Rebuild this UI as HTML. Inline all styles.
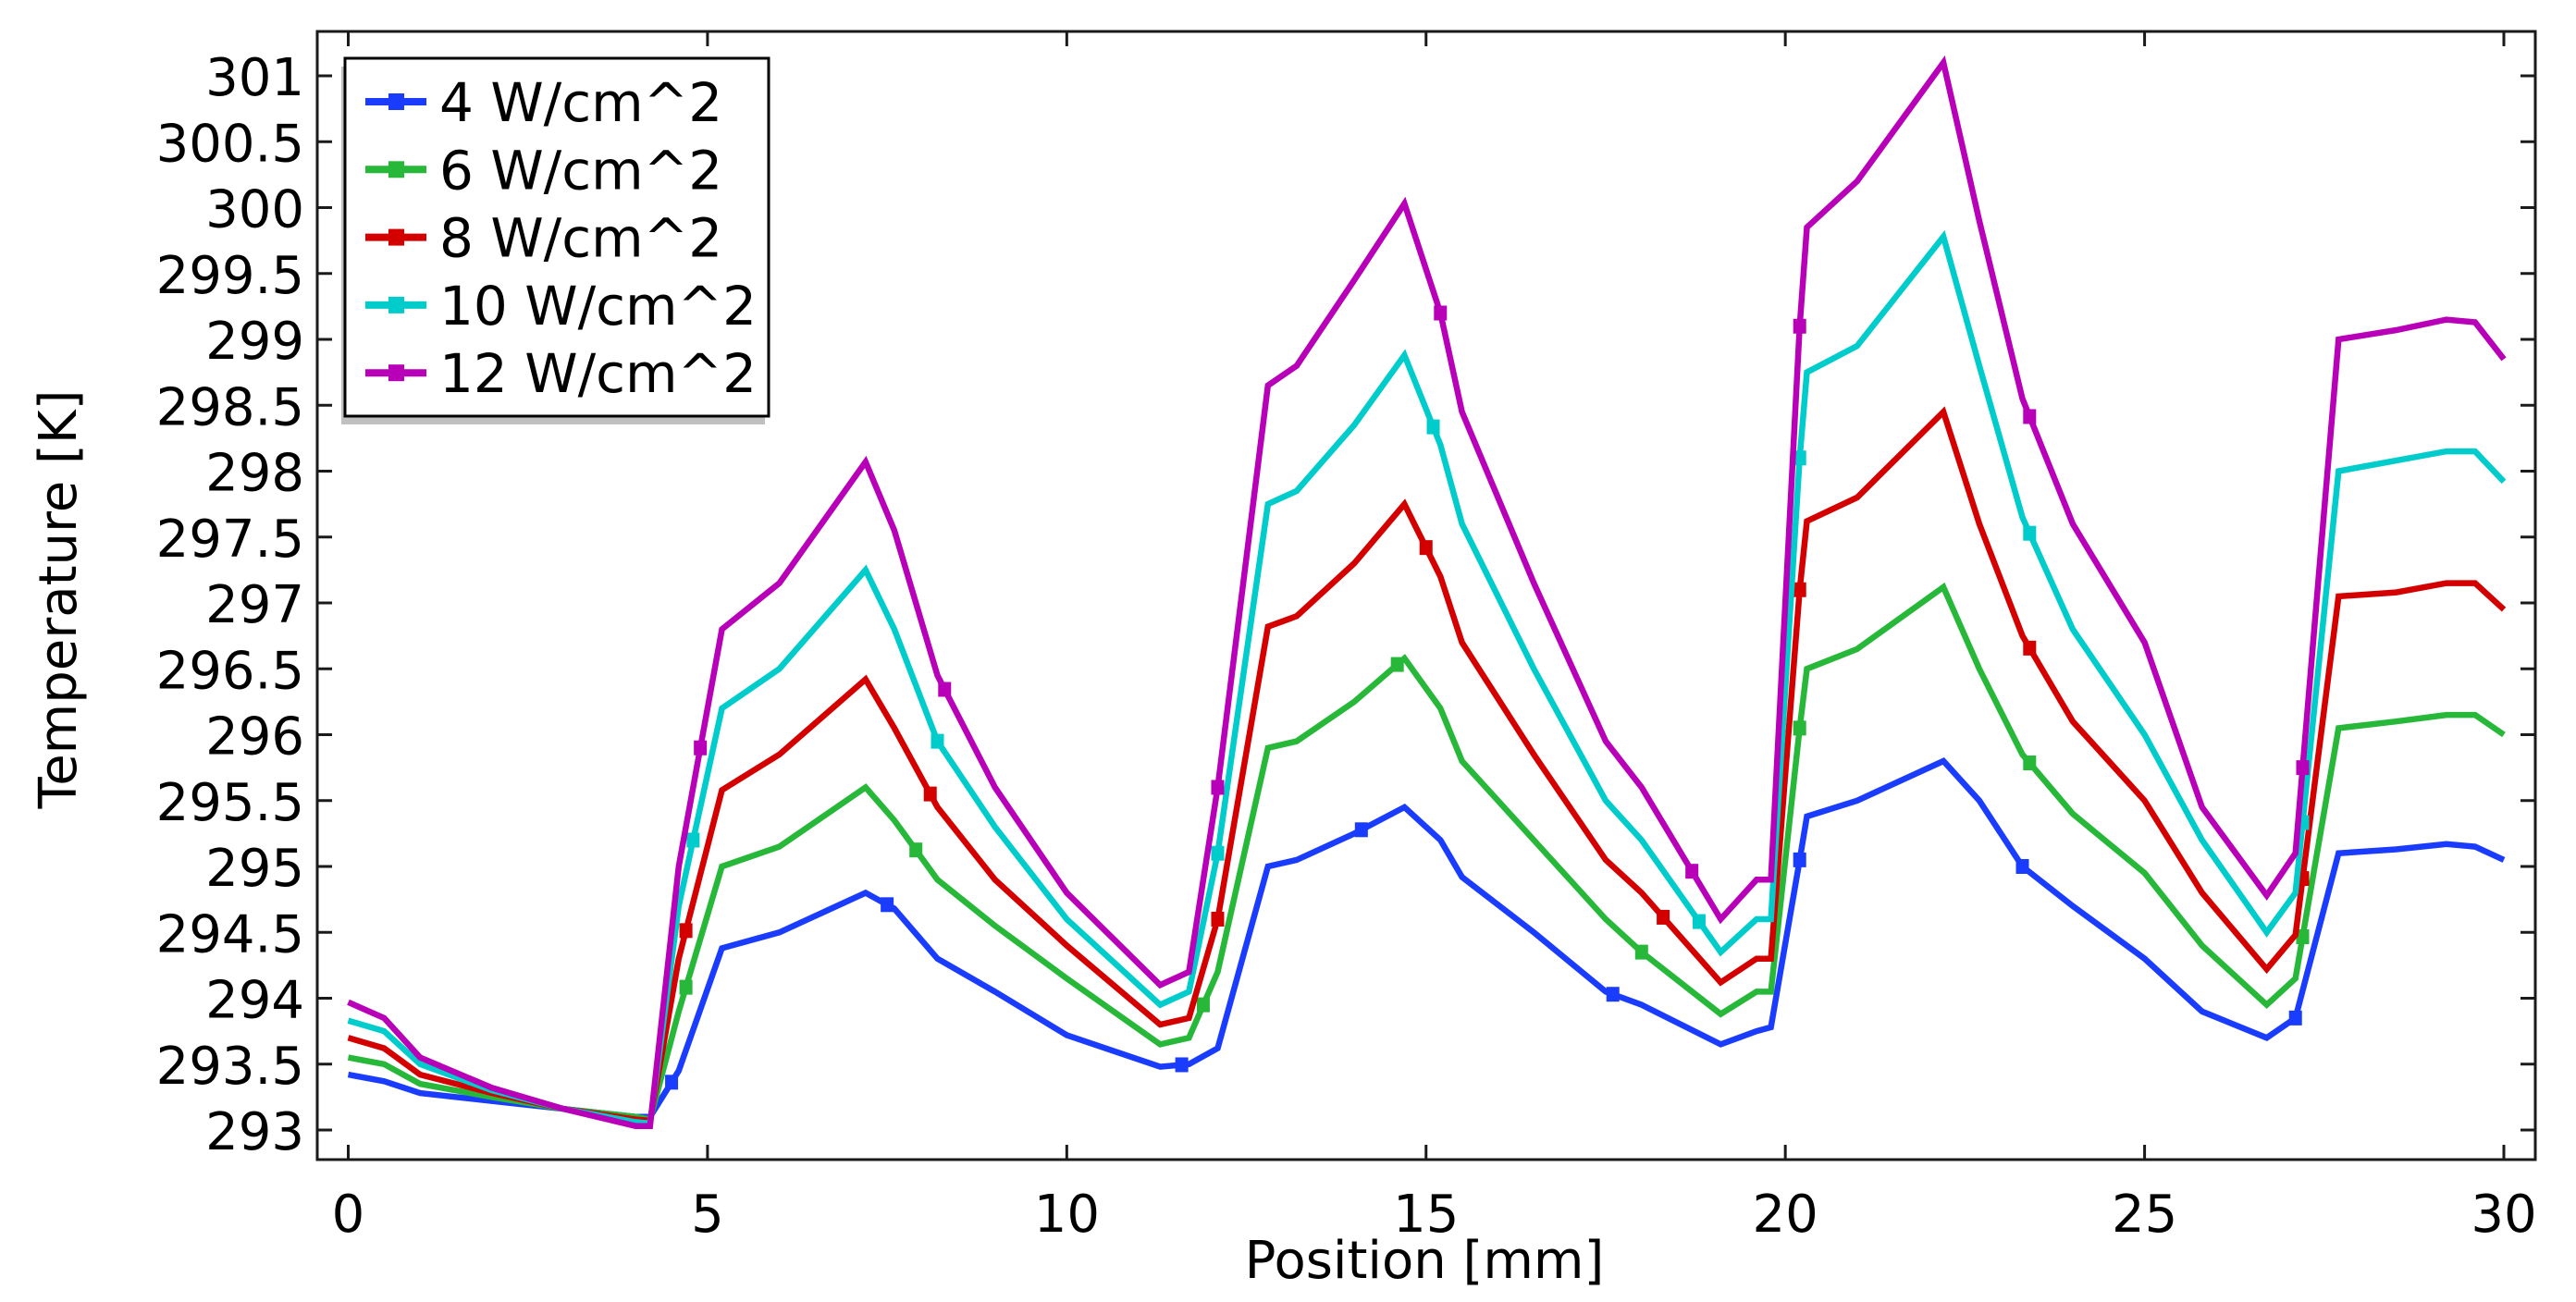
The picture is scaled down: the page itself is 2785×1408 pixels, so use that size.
<!DOCTYPE html>
<html><head><meta charset="utf-8">
<style>
html,body{margin:0;padding:0;background:#fff;}
svg{display:block;font-family:"DejaVu Sans","Liberation Sans",sans-serif;}
</style></head>
<body>
<svg id="chart" width="2785" height="1408" viewBox="0 0 2785 1408" xmlns="http://www.w3.org/2000/svg">
<rect x="0" y="0" width="2785" height="1408" fill="#fff"/>
<g id="plot"></g>
<text x="1540" y="1382" font-size="56" text-anchor="middle">Position [mm]</text>
<text transform="translate(82,648) rotate(-90)" font-size="56" text-anchor="middle">Temperature [K]</text>
</svg>
<script>
const xTicks = [0,5,10,15,20,25,30];
const yTicks = [293,293.5,294,294.5,295,295.5,296,296.5,297,297.5,298,298.5,299,299.5,300,300.5,301];
const yTickLabels = ["293","293.5","294","294.5","295","295.5","296","296.5","297","297.5","298","298.5","299","299.5","300","300.5","301"];
const seriesNames = ["4 W/cm^2","6 W/cm^2","8 W/cm^2","10 W/cm^2","12 W/cm^2"];
const seriesColors = ["#1a3cff","#27b83a","#d40000","#00cccc","#b800b8"];
const positions = [0,0.5,1,2,3,4,4.2,4.6,5.2,6,7.2,7.6,8.2,9,10,11.3,11.7,12.1,12.8,13.2,14,14.7,15.2,15.5,16.5,17.5,18,19.1,19.6,19.8,20.2,20.3,21,22.2,22.7,23.3,24,25,25.8,26.7,27.1,27.7,28.5,29.2,29.6,30];
const temp4  = [293.42,293.37,293.28,293.22,293.16,293.1,293.1,293.45,294.38,294.5,294.8,294.68,294.3,294.05,293.72,293.48,293.5,293.62,295.0,295.05,295.25,295.45,295.2,294.92,294.5,294.05,293.95,293.65,293.75,293.78,295.05,295.38,295.5,295.8,295.5,295.0,294.7,294.3,293.9,293.7,293.85,295.1,295.13,295.17,295.15,295.05];
const temp6  = [293.55,293.5,293.35,293.25,293.16,293.1,293.08,293.9,295.0,295.15,295.6,295.35,294.9,294.55,294.15,293.65,293.7,294.2,295.9,295.95,296.25,296.58,296.2,295.8,295.2,294.6,294.35,293.88,294.05,294.05,296.05,296.5,296.65,297.12,296.5,295.85,295.4,294.95,294.4,293.95,294.15,296.05,296.1,296.15,296.15,296.0];
const temp8  = [293.7,293.62,293.42,293.28,293.16,293.08,293.07,294.3,295.58,295.85,296.42,296.05,295.45,294.9,294.4,293.8,293.85,294.6,296.82,296.9,297.3,297.75,297.2,296.7,295.85,295.05,294.8,294.12,294.3,294.3,297.1,297.62,297.8,298.45,297.6,296.75,296.1,295.5,294.8,294.22,294.48,297.05,297.08,297.15,297.15,296.95];
const temp10 = [293.83,293.75,293.5,293.3,293.16,293.06,293.05,294.7,296.2,296.5,297.25,296.8,295.95,295.3,294.6,293.95,294.05,295.1,297.75,297.85,298.35,298.88,298.2,297.6,296.5,295.5,295.2,294.35,294.6,294.6,298.1,298.75,298.95,299.78,298.8,297.65,296.8,296.0,295.2,294.5,294.8,298.0,298.08,298.15,298.15,297.92];
const temp12 = [293.97,293.85,293.55,293.32,293.16,293.03,293.03,295.0,296.8,297.15,298.07,297.55,296.45,295.6,294.8,294.1,294.2,295.6,298.65,298.8,299.45,300.03,299.2,298.45,297.15,295.95,295.6,294.6,294.9,294.9,299.1,299.85,300.2,301.1,299.9,298.55,297.6,296.7,295.45,294.78,295.1,299.0,299.07,299.15,299.13,298.85];
const markers4  = [4.5,7.5,11.6,14.1,17.6,20.2,23.3,27.1];
const markers6  = [4.7,7.9,11.9,14.6,18.0,20.2,23.4,27.2];
const markers8  = [4.7,8.1,12.1,15.0,18.3,20.2,23.4,27.2];
const markers10 = [4.8,8.2,12.1,15.1,18.8,20.2,23.4,27.2];
const markers12 = [4.9,8.3,12.1,15.2,18.7,20.2,23.4,27.2];

const allTemps=[temp4,temp6,temp8,temp10,temp12];
const allMarkers=[markers4,markers6,markers8,markers10,markers12];
const NS="http://www.w3.org/2000/svg";
const L=343,R=2741,T=34,B=1254;
const X0=376.5,X30=2707,Y293=1222,Y301=82;
function xs(v){return X0+(v-0)*(X30-X0)/30;}
function ys(v){return Y293-(v-293)*(Y293-Y301)/8;}
function mk(tag,attrs,parent){const e=document.createElementNS(NS,tag);for(const k in attrs)e.setAttribute(k,attrs[k]);parent.appendChild(e);return e;}
const plot=document.getElementById('plot');

allTemps.forEach((arr,si)=>{
  const g=mk('g',{},plot);
  
  
  const d=arr.map((v,i)=>(i?'L':'M')+xs(positions[i]).toFixed(1)+','+ys(v).toFixed(1)).join(' ');
  const p=mk('path',{d:d,fill:'none',stroke:seriesColors[si],'stroke-width':6.5,'stroke-linejoin':'miter'},g);
  
  
  allMarkers[si].forEach(mx=>{
    let k=0;while(k<positions.length-2&&positions[k+1]<mx)k++;
    const t=(mx-positions[k])/(positions[k+1]-positions[k]);
    const v=arr[k]+t*(arr[k+1]-arr[k]);
    const r=mk('rect',{x:xs(mx)-7,y:ys(v)-8,width:14,height:16,fill:seriesColors[si]},g);
    
    
  });
});

const fr=mk('rect',{x:L,y:T,width:R-L,height:B-T,fill:'none',stroke:'#1a1a1a','stroke-width':3},plot);



xTicks.forEach(v=>{
  const x=xs(v);
  mk('line',{x1:x,y1:B,x2:x,y2:B-16,stroke:'#1a1a1a','stroke-width':3},plot);
  mk('line',{x1:x,y1:T,x2:x,y2:T+16,stroke:'#1a1a1a','stroke-width':3},plot);
  const t=mk('text',{x:x,y:1332,'font-size':56,'text-anchor':'middle'},plot);
  t.textContent=String(v);
  
  
});
yTicks.forEach((v,i)=>{
  const y=ys(v);
  mk('line',{x1:L,y1:y,x2:L+16,y2:y,stroke:'#1a1a1a','stroke-width':3},plot);
  mk('line',{x1:R,y1:y,x2:R-16,y2:y,stroke:'#1a1a1a','stroke-width':3},plot);
  const t=mk('text',{x:329,y:y+21,'font-size':56,'text-anchor':'end'},plot);
  t.textContent=yTickLabels[i];
  
  
});

const lg=mk('g',{},plot);


mk('rect',{x:369,y:72,width:458,height:387,fill:'#c0c0c0'},lg);
mk('rect',{x:373,y:63,width:458,height:387,fill:'#fff',stroke:'#000','stroke-width':3},lg);
seriesNames.forEach((n,i)=>{
  const y=110+i*73.3;
  const e=mk('g',{},lg);
  
  
  mk('line',{x1:395,y1:y,x2:461,y2:y,stroke:seriesColors[i],'stroke-width':8},e);
  mk('rect',{x:420,y:y-9,width:17,height:18,fill:seriesColors[i]},e);
  const t=mk('text',{x:475,y:y+21,'font-size':58},e);
  t.textContent=n;
});
</script>
</body></html>
